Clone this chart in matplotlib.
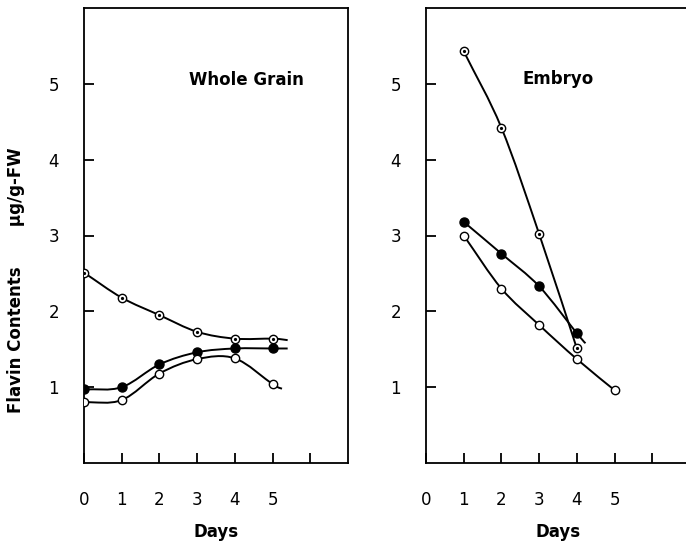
import numpy as np
import matplotlib.pyplot as plt
from matplotlib.path import Path
from matplotlib.patches import PathPatch

plt.rcParams["font.family"] = ["DejaVu Sans"]

# whole grain, days 0-5
wg_days = [0, 1, 2, 3, 4, 5]
wg_dot = [2.51, 2.18, 1.95, 1.73, 1.64, 1.64]
wg_filled = [0.97, 1.00, 1.30, 1.46, 1.51, 1.51]
wg_open = [0.80, 0.83, 1.18, 1.37, 1.38, 1.04]
# where the drawn curves stop past the last point
wg_dot_end = (5.4, 1.62)
wg_filled_end = (5.4, 1.51)
wg_open_end = (5.25, 0.98)

# embryo, days 1-5
em_dot_days = [1, 2, 3, 4]
em_dot = [5.43, 4.42, 3.02, 1.51]
em_filled_days = [1, 2, 3, 4]
em_filled = [3.18, 2.76, 2.33, 1.71]
em_filled_end = (4.23, 1.58)
em_open_days = [1, 2, 3, 4, 5]
em_open = [3.00, 2.30, 1.82, 1.37, 0.96]

x_ticks = [0, 1, 2, 3, 4, 5, 6]
x_labels = ["0", "1", "2", "3", "4", "5", ""]
y_ticks = [1, 2, 3, 4, 5]
y_labels = ["1", "2", "3", "4", "5"]


def smooth(ax, xs, ys, end=None):
    xs = list(xs)
    ys = list(ys)
    if end is not None:
        xs.append(end[0])
        ys.append(end[1])
    p = np.column_stack([xs, ys])
    verts = [p[0]]
    codes = [Path.MOVETO]
    n = len(p)
    for i in range(n - 1):
        p0 = p[i - 1] if i > 0 else 2 * p[i] - p[i + 1] + (p[i + 1] - p[i]) * 0.0
        p3 = p[i + 2] if i + 2 < n else p[i + 1]
        c1 = p[i] + (p[i + 1] - p0) / 6.0
        c2 = p[i + 1] - (p3 - p[i]) / 6.0
        verts += [c1, c2, p[i + 1]]
        codes += [Path.CURVE4] * 3
    ax.add_patch(PathPatch(Path(verts, codes), fill=False, lw=1.4,
                           ec="black", zorder=2))


def markers(ax, xs, ys, kind):
    if kind == "filled":
        ax.plot(xs, ys, "o", ms=6.5, mfc="black", mec="black", zorder=3)
    else:
        ax.plot(xs, ys, "o", ms=6, mfc="white", mec="black", mew=1.0,
                zorder=3)
        if kind == "dot":
            ax.plot(xs, ys, "o", ms=1.3, mfc="black", mec="black", zorder=4)


fig = plt.figure(figsize=(6.86, 5.47), dpi=100)
ax1 = fig.add_axes([84 / 686, 84 / 547, 264 / 686, 455 / 547])
ax2 = fig.add_axes([426 / 686, 84 / 547, 264 / 686, 455 / 547])

for ax in (ax1, ax2):
    ax.set_xlim(0, 7)
    ax.set_ylim(0, 6)
    for s in ax.spines.values():
        s.set_linewidth(1.3)
    ax.set_xticks(x_ticks)
    ax.set_xticklabels(x_labels)
    ax.set_yticks(y_ticks)
    ax.set_yticklabels(y_labels)
    ax.tick_params(direction="in", length=7, width=1.3, labelsize=12,
                   colors="black")
    ax.tick_params(axis="x", pad=20)
    ax.tick_params(axis="y", pad=18)
    ax.set_xlabel("Days", fontsize=12, fontweight="bold", labelpad=10)

smooth(ax1, wg_days, wg_dot, wg_dot_end)
smooth(ax1, wg_days, wg_filled, wg_filled_end)
smooth(ax1, wg_days, wg_open, wg_open_end)
markers(ax1, wg_days, wg_dot, "dot")
markers(ax1, wg_days, wg_filled, "filled")
markers(ax1, wg_days, wg_open, "open")

smooth(ax2, em_dot_days, em_dot)
smooth(ax2, em_filled_days, em_filled, em_filled_end)
smooth(ax2, em_open_days, em_open)
markers(ax2, em_dot_days, em_dot, "dot")
markers(ax2, em_filled_days, em_filled, "filled")
markers(ax2, em_open_days, em_open, "open")

ax1.text(0.617, 0.842, "Whole Grain", transform=ax1.transAxes, ha="center",
         va="center", fontsize=12, fontweight="bold")
ax2.text(0.5, 0.844, "Embryo", transform=ax2.transAxes, ha="center",
         va="center", fontsize=12, fontweight="bold")

fig.text(16 / 686, 1 - 280 / 547, "Flavin Contents       \u03bcg/g-FW",
         rotation=90, ha="center", va="center", fontsize=12,
         fontweight="bold")

fig.savefig("out.png", dpi=100)
